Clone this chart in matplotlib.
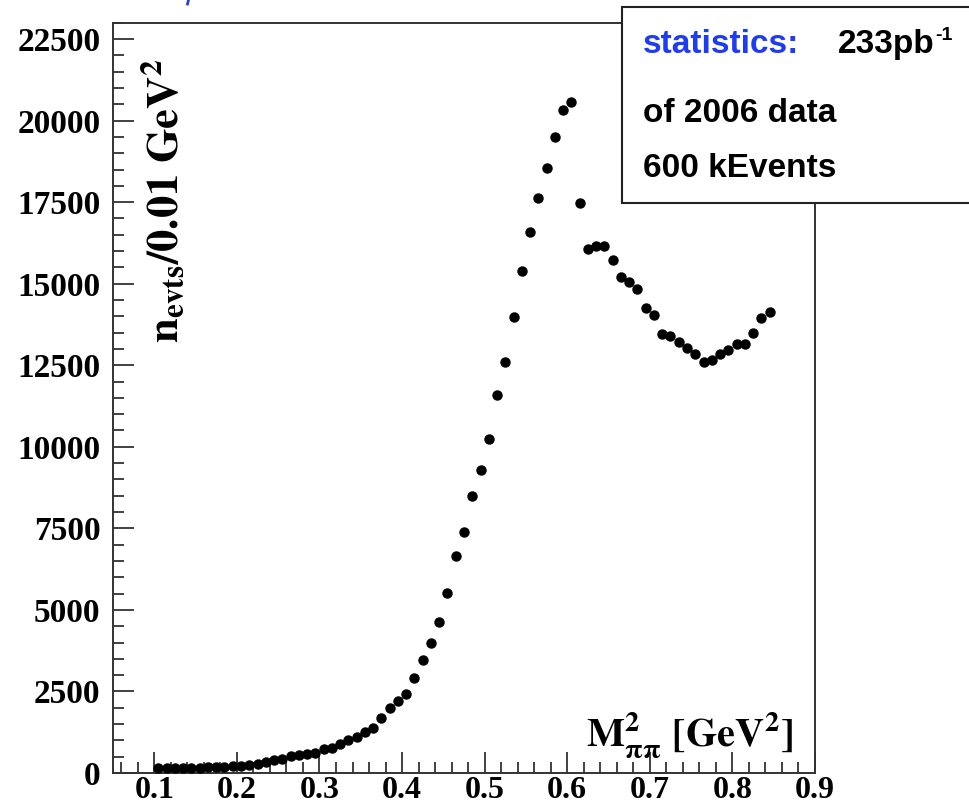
import matplotlib
matplotlib.use('Agg')
import matplotlib.pyplot as plt
from matplotlib.patches import Rectangle
from matplotlib.ticker import MultipleLocator
from matplotlib.font_manager import FontProperties

plt.rcParams['mathtext.fontset'] = 'stix'
plt.rcParams['mathtext.default'] = 'bf'

# bin centres, M^2_pipi [GeV^2]
m2_pipi = [0.105, 0.115, 0.125, 0.135, 0.145, 0.155, 0.165, 0.175, 0.185, 0.195,
           0.205, 0.215, 0.225, 0.235, 0.245, 0.255, 0.265, 0.275, 0.285, 0.295,
           0.305, 0.315, 0.325, 0.335, 0.345, 0.355, 0.365, 0.375, 0.385, 0.395,
           0.405, 0.415, 0.425, 0.435, 0.445, 0.455, 0.465, 0.475, 0.485, 0.495,
           0.505, 0.515, 0.525, 0.535, 0.545, 0.555, 0.565, 0.575, 0.585, 0.595,
           0.605, 0.615, 0.625, 0.635, 0.645, 0.655, 0.665, 0.675, 0.685, 0.695,
           0.705, 0.715, 0.725, 0.735, 0.745, 0.755, 0.765, 0.775, 0.785, 0.795,
           0.805, 0.815, 0.825, 0.835, 0.845]
# events per 0.01 GeV^2
n_evts = [164, 164, 164, 153, 153, 164, 184, 184, 184, 204,
          225, 245, 286, 327, 388, 419, 521, 552, 572, 623,
          726, 766, 879, 1022, 1094, 1257, 1380, 1676, 1993, 2198,
          2422, 2913, 3455, 3976, 4640, 5530, 6650, 7390, 8490, 9290,
          10250, 11600, 12610, 13990, 15400, 16585, 17640, 18560, 19490, 20330,
          20560, 17480, 16050, 16170, 16170, 15730, 15200, 15040, 14840, 14250,
          14040, 13460, 13410, 13200, 13020, 12840, 12590, 12660, 12840, 12970,
          13150, 13150, 13480, 13940, 14120]

x_ticks = [0.1, 0.2, 0.3, 0.4, 0.5, 0.6, 0.7, 0.8, 0.9]
y_ticks = [0, 2500, 5000, 7500, 10000, 12500, 15000, 17500, 20000, 22500]

fig = plt.figure(figsize=(9.7, 8.08), dpi=100)
ax = fig.add_axes([0.1165, 0.0433, 0.7237, 0.9286])

ax.plot(m2_pipi, n_evts, 'o', color='black', ms=6.5, mec='black', zorder=3)

ax.set_xlim(0.05, 0.9)
ax.set_ylim(0, 23000)
ax.set_xticks(x_ticks)
ax.set_yticks(y_ticks)
ax.set_xticklabels([f'{v:.1f}' for v in x_ticks])
ax.set_yticklabels([str(v) for v in y_ticks])
ax.xaxis.set_minor_locator(MultipleLocator(0.02))
ax.yaxis.set_minor_locator(MultipleLocator(500))

for lab in ax.get_yticklabels():
    lab.set_fontproperties(FontProperties(family='Liberation Serif', weight='bold', size=24))
for lab in ax.get_xticklabels():
    lab.set_fontproperties(FontProperties(family='Liberation Serif', weight='bold', size=23))

ax.tick_params(which='both', direction='in', top=False, right=False, color='#333333', width=1.3)
ax.tick_params(which='major', length=15)
ax.tick_params(which='minor', length=8)
ax.tick_params(axis='y', pad=9)
ax.tick_params(axis='x', pad=2)
for sp in ax.spines.values():
    sp.set_color('#333333')
    sp.set_linewidth(1.4)

# axis titles drawn inside the frame
ax.text(0.072, 0.952, r'$n_{evts}/0.01\ GeV^{2}$', transform=ax.transAxes,
        rotation=90, ha='center', va='top', fontsize=32)
ax.text(0.969, 0.035, r'$M^{2}_{\pi\pi}\ [GeV^{2}]$', transform=ax.transAxes,
        ha='right', va='baseline', fontsize=29)

# statistics box
W, H = 970, 808
box = Rectangle((622 / W, 1 - 203 / H), 0.5, (203 - 7) / H, transform=fig.transFigure,
                facecolor='white', edgecolor='#222222', linewidth=1.5, zorder=5)
fig.add_artist(box)

sans = dict(family='Liberation Sans', weight='bold', fontsize=24, zorder=6)
fig.text(643 / W, 1 - 53 / H, 'statistics:', color='#1E3CF0', va='baseline', **sans)
t233 = fig.text(838 / W, 1 - 53 / H, '233pb', color='black', va='baseline', **sans)
fig.text(643 / W, 1 - 122 / H, 'of 2006 data', color='black', va='baseline', **sans)
fig.text(643 / W, 1 - 177 / H, '600 kEvents', color='black', va='baseline', **sans)

renderer = fig.canvas.get_renderer()
bb = t233.get_window_extent(renderer)
fig.text(bb.x1 / W + 1 / W, 1 - 40 / H, '-1', color='black', va='baseline',
         family='Liberation Sans', weight='bold', fontsize=14, zorder=6)

# small blue fragment at the top edge
fig.add_artist(plt.Line2D([188.5 / W, 187.5 / W], [1.0, 1 - 4 / H], transform=fig.transFigure,
                          color='#3040D0', linewidth=2))

fig.savefig('out.png', dpi=100)
